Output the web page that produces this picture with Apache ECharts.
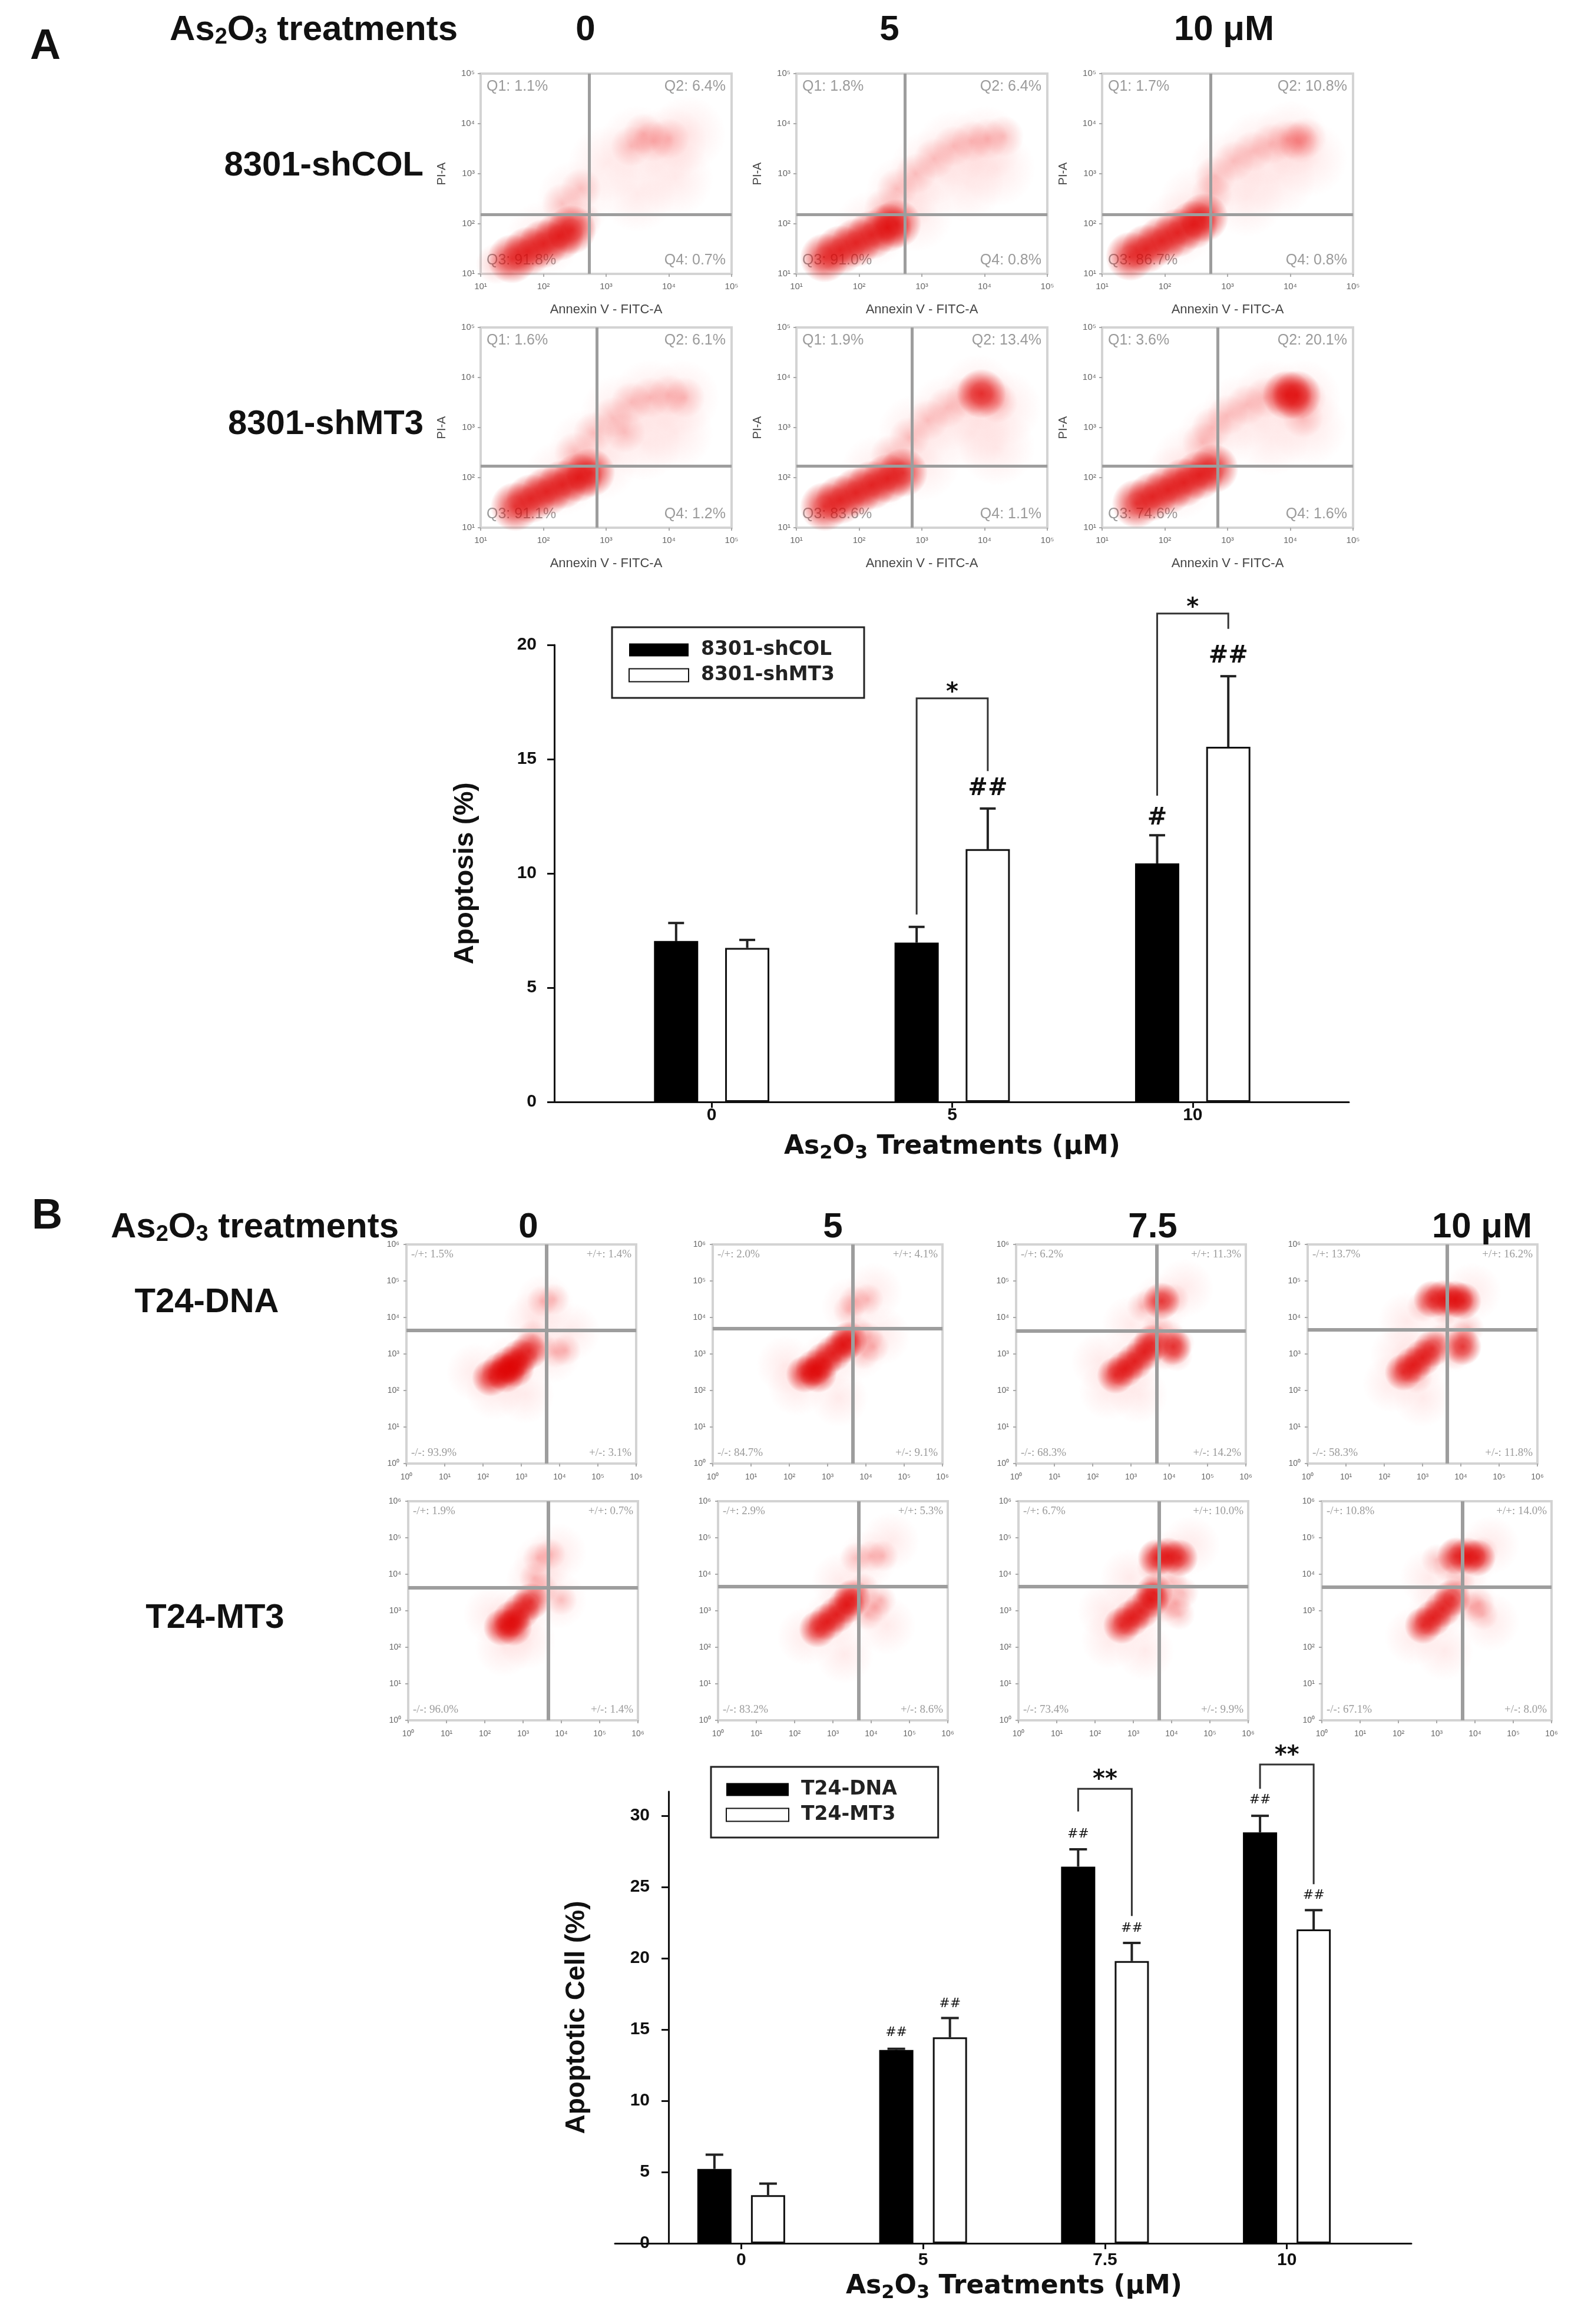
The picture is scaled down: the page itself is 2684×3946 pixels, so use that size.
<!DOCTYPE html>
<html>
<head>
<meta charset="utf-8">
<title>As2O3 apoptosis</title>
<script src="https://cdn.jsdelivr.net/npm/echarts@6.0.0/dist/echarts.min.js"></script>
<style>
  html, body { margin: 0; background: #fff; }
  #chart { width: 2684px; height: 3946px; }
</style>
</head>
<body>
<div id="chart"></div>
<script>
// ---------- panel A bars (8301 cells) ----------
const doseA = ['0', '5', '10'];
const shCOL = [7.04, 6.97, 10.44];
const shCOLErr = [0.79, 0.69, 1.23];
const shMT3 = [6.74, 11.06, 15.54];
const shMT3Err = [0.35, 1.78, 3.09];
// [dose index, left leg bottom, top, right leg bottom, star y]
const bracketsA = [[1, 8.2, 17.66, 14.48, 17.9], [2, 13.4, 21.37, 20.7, 21.6]];
// [dose index, -1 = black bar / 1 = white bar, y, text]
const marksA = [[1, 1, 13.7, '##'], [2, -1, 12.4, '#'], [2, 1, 19.5, '##']];

// ---------- panel B bars (T24 cells) ----------
const doseB = ['0', '5', '7.5', '10'];
const t24DNA = [5.22, 13.57, 26.43, 28.84];
const t24DNAErr = [1.0, 0.08, 1.22, 1.16];
const t24MT3 = [3.38, 14.46, 19.81, 22.03];
const t24MT3Err = [0.81, 1.35, 1.27, 1.35];
const bracketsB = [[2, 30.3, 31.9, 22.97, 32.5], [3, 31.9, 33.6, 25.2, 34.2]];
const marksB = [[1, -1, 14.8, '##'], [1, 1, 16.8, '##'], [2, -1, 28.7, '##'],
                [2, 1, 22.1, '##'], [3, -1, 31.1, '##'], [3, 1, 24.4, '##']];

// ---------- flow cytometry, panel A (log10 units), rows shCOL / shMT3, cols 0/5/10 ----------
const gateA = [[2.73, 2.18], [2.73, 2.18], [2.73, 2.18], [2.85, 2.23], [2.84, 2.23], [2.84, 2.23]];
const quadA = [['1.1', '6.4', '91.8', '0.7'], ['1.8', '6.4', '91.0', '0.8'], ['1.7', '10.8', '86.7', '0.8'],
               ['1.6', '6.1', '91.1', '1.2'], ['1.9', '13.4', '83.6', '1.1'], ['3.6', '20.1', '74.6', '1.6']];
const denseA = [
  [[1.5, 1.3], [1.75, 1.45], [2.0, 1.6], [2.25, 1.75], [2.45, 1.88]],
  [[1.45, 1.32], [1.7, 1.48], [1.95, 1.62], [2.2, 1.78], [2.45, 1.92], [2.6, 2.0]],
  [[1.45, 1.35], [1.7, 1.5], [1.95, 1.66], [2.2, 1.82], [2.45, 1.98], [2.62, 2.12]],
  [[1.55, 1.42], [1.8, 1.58], [2.05, 1.72], [2.3, 1.86], [2.55, 2.0], [2.75, 2.1]],
  [[1.45, 1.42], [1.7, 1.56], [1.95, 1.7], [2.2, 1.85], [2.45, 1.98], [2.7, 2.1], [3.95, 3.68]],
  [[1.55, 1.48], [1.8, 1.62], [2.05, 1.76], [2.3, 1.9], [2.55, 2.05], [2.78, 2.18], [3.95, 3.65], [4.1, 3.65]]
];
const looseA = [
  [[1.25, 1.2], [2.6, 2.05], [2.3, 2.4], [2.6, 2.7], [3.4, 3.55], [3.75, 3.65], [4.0, 3.7], [3.6, 3.8]],
  [[2.4, 2.3], [2.6, 2.7], [2.9, 3.0], [3.2, 3.3], [3.5, 3.55], [3.8, 3.65], [4.05, 3.7], [4.3, 3.75]],
  [[2.75, 2.6], [2.8, 2.95], [3.1, 3.25], [3.4, 3.45], [3.7, 3.6], [3.95, 3.68], [4.1, 3.68], [4.15, 3.62], [4.25, 3.72]],
  [[2.5, 2.5], [2.8, 2.9], [3.1, 3.2], [3.4, 3.5], [3.7, 3.6], [4.0, 3.65], [4.25, 3.6], [3.3, 2.9]],
  [[2.5, 2.45], [2.8, 2.8], [3.1, 3.15], [3.4, 3.4], [3.7, 3.6], [3.85, 3.7], [4.1, 3.65], [4.2, 3.5]],
  [[2.6, 2.7], [2.75, 3.0], [3.0, 3.25], [3.3, 3.45], [3.6, 3.6], [3.85, 3.7], [4.25, 3.6], [4.2, 3.2]]
];
const sparseA = [
  [[2.0, 1.7], [2.5, 2.5], [3.0, 3.2], [3.5, 3.6], [4.0, 3.6], [4.3, 3.8], [3.5, 2.6], [4.1, 2.9]],
  [[2.2, 1.9], [2.7, 2.6], [3.1, 3.1], [3.5, 3.5], [4.0, 3.6], [3.7, 2.8], [4.2, 3.1], [2.9, 2.2]],
  [[2.5, 2.4], [3.0, 3.1], [3.5, 3.5], [4.0, 3.7], [4.3, 3.3], [3.8, 2.9], [2.2, 1.9], [3.3, 2.5]],
  [[2.3, 2.0], [2.7, 2.6], [3.2, 3.3], [3.7, 3.6], [4.2, 3.6], [3.6, 2.7], [4.1, 2.9], [2.9, 2.3]],
  [[2.3, 2.1], [2.9, 2.9], [3.4, 3.3], [3.9, 3.7], [4.3, 3.4], [3.8, 2.9], [4.2, 2.6], [3.0, 2.3]],
  [[2.4, 2.3], [2.8, 2.8], [3.2, 3.3], [3.7, 3.6], [4.2, 3.6], [4.3, 3.0], [3.7, 2.8], [2.2, 1.9]]
];

// ---------- flow cytometry, panel B (log10 units), rows T24-DNA / T24-MT3, cols 0/5/7.5/10 ----------
const gateB = [[3.66, 3.65], [3.65, 3.69], [3.67, 3.64], [3.64, 3.66],
               [3.66, 3.63], [3.67, 3.66], [3.67, 3.67], [3.67, 3.65]];
const quadB = [['1.5', '1.4', '93.9', '3.1'], ['2.0', '4.1', '84.7', '9.1'], ['6.2', '11.3', '68.3', '14.2'], ['13.7', '16.2', '58.3', '11.8'],
               ['1.9', '0.7', '96.0', '1.4'], ['2.9', '5.3', '83.2', '8.6'], ['6.7', '10.0', '73.4', '9.9'], ['10.8', '14.0', '67.1', '8.0']];
const denseB = [
  [[2.2, 2.35], [2.45, 2.55], [2.7, 2.72], [2.95, 2.9], [3.2, 3.08], [2.6, 2.45], [2.85, 2.6]],
  [[2.4, 2.45], [2.65, 2.62], [2.9, 2.82], [3.15, 3.02], [3.4, 3.25], [3.55, 3.38], [2.75, 2.45]],
  [[2.6, 2.42], [2.85, 2.6], [3.1, 2.8], [3.35, 3.05], [3.55, 3.3], [4.1, 3.2], [3.8, 4.45]],
  [[2.5, 2.5], [2.75, 2.7], [3.0, 2.9], [3.25, 3.15], [3.25, 4.5], [3.55, 4.52], [3.85, 4.5], [4.05, 4.45], [4.05, 3.2]],
  [[2.45, 2.55], [2.7, 2.78], [2.95, 3.0], [3.2, 3.25], [2.75, 2.55]],
  [[2.6, 2.5], [2.85, 2.7], [3.1, 2.9], [3.35, 3.15], [3.5, 3.35]],
  [[2.7, 2.6], [2.95, 2.8], [3.2, 3.0], [3.45, 3.3], [3.55, 3.5], [3.6, 4.45], [3.9, 4.5], [4.2, 4.45]],
  [[2.65, 2.6], [2.9, 2.8], [3.15, 3.05], [3.4, 3.35], [3.5, 4.5], [3.8, 4.5], [4.05, 4.45]]
];
const looseB = [
  [[3.9, 3.05], [4.15, 3.1], [3.55, 4.45], [3.85, 4.5], [3.3, 3.5], [3.5, 3.2]],
  [[4.2, 3.2], [3.95, 3.0], [4.05, 3.45], [3.7, 4.45], [4.05, 4.5], [3.55, 4.2], [3.8, 3.6]],
  [[4.2, 2.95], [3.9, 3.0], [4.0, 3.5], [3.55, 4.45], [4.1, 4.5], [3.3, 4.3], [3.7, 3.7], [4.25, 3.3]],
  [[3.85, 3.0], [4.0, 3.45], [3.5, 3.4], [3.6, 4.2], [2.85, 2.35], [3.0, 4.3], [4.2, 3.7]],
  [[3.4, 4.45], [3.7, 4.55], [4.0, 3.3], [3.5, 3.6], [3.3, 3.9]],
  [[4.1, 3.1], [4.25, 3.3], [3.9, 2.9], [3.6, 4.45], [4.0, 4.5], [4.3, 4.5], [3.8, 3.6]],
  [[4.1, 3.2], [4.2, 2.9], [3.85, 3.1], [3.5, 4.2], [4.0, 3.8], [4.3, 3.5]],
  [[4.1, 3.2], [4.2, 2.9], [3.9, 3.1], [3.3, 4.2], [4.2, 4.6], [3.6, 3.8], [3.0, 4.4]]
];
const sparseB = [
  [[2.7, 2.7], [2.3, 2.0], [3.8, 3.0], [3.6, 4.4], [1.8, 2.5], [3.1, 1.9], [3.3, 3.9], [4.3, 3.6]],
  [[3.0, 2.8], [3.8, 3.1], [3.6, 4.3], [4.2, 4.7], [2.2, 2.1], [3.3, 1.8], [1.9, 2.7], [4.4, 3.5]],
  [[3.0, 2.7], [3.8, 3.3], [3.8, 4.4], [2.4, 2.0], [3.2, 1.9], [4.4, 4.8], [3.0, 3.8], [2.2, 2.8]],
  [[2.9, 2.8], [3.6, 4.3], [3.8, 3.3], [2.2, 2.2], [3.0, 1.8], [2.6, 3.9], [4.3, 4.7], [2.4, 3.0]],
  [[2.8, 2.8], [3.5, 4.3], [3.9, 3.3], [2.5, 2.0], [3.1, 2.2], [2.2, 2.9], [3.9, 4.6], [3.3, 3.8]],
  [[3.0, 2.8], [3.8, 3.2], [3.9, 4.4], [2.3, 2.3], [3.3, 1.8], [4.5, 4.9], [3.2, 3.8], [4.4, 2.6]],
  [[3.1, 2.9], [3.9, 3.3], [3.9, 4.4], [2.4, 2.2], [3.3, 1.9], [4.5, 4.8], [2.9, 3.9], [2.3, 3.0]],
  [[3.0, 3.0], [3.8, 3.3], [3.8, 4.4], [2.4, 2.3], [3.2, 1.9], [4.4, 4.8], [2.8, 3.9], [4.4, 2.7]]
];

const sup = ['⁰', '¹', '²', '³', '⁴', '⁵', '⁶'];
const SANS = '"Liberation Sans", Arial, sans-serif';
const WIDE = '"DejaVu Sans", Verdana, sans-serif';

const grids = [], xAxes = [], yAxes = [], series = [], graphics = [], legends = [];

function addGrid(g) { grids.push(g); return grids.length - 1; }

function text(str, x, y, size, align, extra) {
  graphics.push({
    type: 'text', x: x, y: y, z: 0, silent: true,
    style: Object.assign({
      text: str, fontSize: size, fontWeight: 'bold', fontFamily: SANS, fill: '#111',
      align: align || 'center', verticalAlign: 'middle'
    }, extra || {})
  });
}

// soft round spot, strong in the middle and fading out smoothly
function spot(rgb, a0, a1) {
  return {
    type: 'radial', x: 0.5, y: 0.5, r: 0.5,
    colorStops: [
      { offset: 0, color: 'rgba(' + rgb + ',' + a0 + ')' },
      { offset: 0.4, color: 'rgba(' + rgb + ',' + a1 + ')' },
      { offset: 1, color: 'rgba(' + rgb + ',0)' }
    ]
  };
}

// one dot plot with quadrant gate
function flowPanel(rect, span, gate, dense, loose, sparse, quad, names, st) {
  const gi = addGrid({ left: rect[0], top: rect[1], width: rect[2], height: rect[3], show: true, borderColor: '#d3d3d3', borderWidth: 4 });
  const lbl = { fontSize: st.tick, color: '#666', fontFamily: SANS, formatter: v => '10' + sup[v] };
  const xi = xAxes.push({
    gridIndex: gi, type: 'value', min: span[0], max: span[1], interval: 1,
    axisLine: { show: false }, axisTick: { show: true, length: 5, lineStyle: { color: '#aaa', width: 2 } },
    splitLine: { show: false }, axisLabel: Object.assign({ margin: st.xMargin }, lbl),
    name: st.xName, nameLocation: 'middle', nameGap: st.xGap,
    nameTextStyle: { fontSize: 22, color: '#444', fontFamily: SANS }
  }) - 1;
  const yi = yAxes.push({
    gridIndex: gi, type: 'value', min: span[0], max: span[1], interval: 1,
    axisLine: { show: false }, axisTick: { show: true, length: 5, lineStyle: { color: '#aaa', width: 2 } },
    splitLine: { show: false }, axisLabel: Object.assign({ margin: st.yMargin }, lbl),
    name: st.yName, nameLocation: 'middle', nameGap: st.yGap, nameRotate: 90,
    nameTextStyle: { fontSize: 20, color: '#444', fontFamily: SANS }
  }) - 1;
  const base = { type: 'scatter', xAxisIndex: xi, yAxisIndex: yi, silent: true, symbol: 'circle' };
  series.push(Object.assign({}, base, {
    data: sparse, symbolSize: st.sparse, itemStyle: { color: spot('255,60,60', 0.13, 0.08) }
  }));
  series.push(Object.assign({}, base, {
    data: loose, symbolSize: st.loose, itemStyle: { color: spot('235,20,20', 0.28, 0.16) }
  }));
  series.push(Object.assign({}, base, {
    data: dense, symbolSize: st.dense, itemStyle: { color: spot('222,0,0', 0.9, 0.7) },
    markLine: {
      silent: true, symbol: 'none', label: { show: false }, animation: false,
      lineStyle: { color: '#9d9d9d', width: st.gateW, type: 'solid' },
      data: [{ xAxis: gate[0] }, { yAxis: gate[1] }]
    }
  }));
  const [x, y, w, h] = rect, p = st.pad;
  const spots = [[x + p, y + p + st.q / 2, 'left'], [x + w - p, y + p + st.q / 2, 'right'],
                 [x + p, y + h - p - st.q / 2, 'left'], [x + w - p, y + h - p - st.q / 2, 'right']];
  spots.forEach((s, i) => text(names[i] + quad[i] + '%', s[0], s[1], st.q, s[2],
    { fontWeight: 'normal', fill: '#9a9a9a', fontFamily: st.qFont }));
}

// bar chart with error bars, significance brackets and marks
function barChart(c) {
  const gFrame = addGrid({ left: c.frameLeft, top: c.top, width: c.frameWidth, height: c.height });
  const gBars = addGrid({ left: c.barsLeft, top: c.top, width: c.barsWidth, height: c.height });
  const axisLine = { color: '#111', width: 3 };
  xAxes.push({
    gridIndex: gFrame, type: 'value', min: 0, max: 1,
    axisLine: { show: true, onZero: false, lineStyle: axisLine },
    axisTick: { show: false }, axisLabel: { show: false }, splitLine: { show: false }
  });
  yAxes.push({ gridIndex: gFrame, type: 'value', min: 0, max: c.max, show: false });
  const bx = xAxes.push({
    gridIndex: gBars, type: 'category', data: c.cats,
    axisLine: { show: false },
    axisTick: { show: true, alignWithLabel: true, length: 10, lineStyle: axisLine },
    axisLabel: { fontSize: 30, fontWeight: 'bold', fontFamily: SANS, color: '#111', margin: c.xMargin },
    name: 'As{s|2}O{s|3} Treatments (μM)', nameLocation: 'middle', nameGap: c.xGap,
    nameTextStyle: {
      fontSize: 44, fontWeight: 'bold', fontFamily: WIDE, color: '#111', lineHeight: 54,
      rich: { s: { fontSize: 32, fontWeight: 'bold', fontFamily: WIDE, color: '#111', lineHeight: 26, verticalAlign: 'bottom' } }
    }
  }) - 1;
  const by = yAxes.push({
    gridIndex: gBars, type: 'value', min: 0, max: c.max, interval: 5, offset: c.yOffset,
    axisLine: { show: true, lineStyle: axisLine },
    axisTick: { show: true, length: 12, lineStyle: axisLine },
    axisLabel: { fontSize: 30, fontWeight: 'bold', fontFamily: SANS, color: '#111', margin: c.yMargin, showMaxLabel: c.maxLabel },
    splitLine: { show: false },
    name: c.yName, nameLocation: 'middle', nameGap: c.yGap, nameRotate: 90,
    nameTextStyle: { fontSize: 46, fontWeight: 'bold', fontFamily: SANS, color: '#111' }
  }) - 1;
  const gapPct = Math.round(c.gap * 100) + '%';
  series.push({
    type: 'bar', name: c.names[0], xAxisIndex: bx, yAxisIndex: by, data: c.a, barWidth: c.barW, barGap: gapPct,
    itemStyle: { color: '#000' }, silent: true
  });
  series.push({
    type: 'bar', name: c.names[1], xAxisIndex: bx, yAxisIndex: by, data: c.b, barWidth: c.barW, barGap: gapPct,
    itemStyle: { color: '#fff', borderColor: '#111', borderWidth: 3 }, silent: true
  });
  const off = c.barW * (1 + c.gap) / 2;
  const err = (means, errs, side) => ({
    type: 'custom', xAxisIndex: bx, yAxisIndex: by, silent: true, clip: false, z: 3,
    data: means.map((m, i) => [i, m, m + errs[i]]),
    renderItem: (params, api) => {
      const p0 = api.coord([api.value(0), api.value(1)]);
      const p1 = api.coord([api.value(0), api.value(2)]);
      const x = p0[0] + side * off;
      const ls = { stroke: '#222', lineWidth: 4 };
      return {
        type: 'group', children: [
          { type: 'line', shape: { x1: x, y1: p0[1], x2: x, y2: p1[1] }, style: ls },
          { type: 'line', shape: { x1: x - c.cap / 2, y1: p1[1], x2: x + c.cap / 2, y2: p1[1] }, style: ls }
        ]
      };
    }
  });
  series.push(err(c.a, c.aErr, -1));
  series.push(err(c.b, c.bErr, 1));
  series.push({
    type: 'custom', xAxisIndex: bx, yAxisIndex: by, silent: true, clip: false, z: 4,
    data: c.brackets,
    renderItem: (params, api) => {
      const cat = api.value(0);
      const l = api.coord([cat, api.value(1)]), t = api.coord([cat, api.value(2)]);
      const r = api.coord([cat, api.value(3)]), s = api.coord([cat, api.value(4)]);
      const xl = l[0] - off, xr = l[0] + off;
      return {
        type: 'group', children: [
          { type: 'polyline', shape: { points: [[xl, l[1]], [xl, t[1]], [xr, t[1]], [xr, r[1]]] },
            style: { stroke: '#333', lineWidth: 3, fill: null } },
          { type: 'text', x: (xl + xr) / 2, y: s[1],
            style: { text: c.star, fontSize: c.starSize, fontWeight: 'bold', fontFamily: WIDE, fill: '#111', align: 'center', verticalAlign: 'middle' } }
        ]
      };
    }
  });
  series.push({
    type: 'custom', xAxisIndex: bx, yAxisIndex: by, silent: true, clip: false, z: 4,
    data: c.marks.map(m => [m[0], m[1], m[2]]),
    renderItem: (params, api) => {
      const p = api.coord([api.value(0), api.value(2)]);
      return {
        type: 'text', x: p[0] + api.value(1) * off, y: p[1],
        style: { text: c.marks[params.dataIndex][3], fontSize: c.markSize, fontWeight: c.markWeight, fontFamily: WIDE,
                 fill: '#111', align: 'center', verticalAlign: 'middle' }
      };
    }
  });
  legends.push({
    data: c.names, orient: 'vertical', left: c.legend[0], top: c.legend[1],
    padding: c.legendPad, itemGap: 10, itemWidth: c.swatch, itemHeight: 22, icon: 'rect',
    borderColor: '#222', borderWidth: 3, selectedMode: false,
    textStyle: { fontSize: 33, fontWeight: 'bold', fontFamily: WIDE, color: '#222', padding: [0, 0, 0, 16] }
  });
}

// ---------- headers ----------
const sub = { s: { fontSize: 38, fontWeight: 'bold', fontFamily: SANS, fill: '#111', lineHeight: 30, verticalAlign: 'bottom' } };
text('A', 77, 80, 72);
text('As{s|2}O{s|3} treatments', 288, 51, 60, 'left', { rich: sub, lineHeight: 64 });
text('0', 994, 51, 60);
text('5', 1510, 51, 60);
text('10 μM', 2078, 51, 60);
text('8301-shCOL', 719, 282, 58, 'right');
text('8301-shMT3', 719, 721, 58, 'right');

text('B', 80, 2066, 72);
text('As{s|2}O{s|3} treatments', 188, 2084, 60, 'left', { rich: sub, lineHeight: 64 });
text('0', 897, 2084, 60);
text('5', 1414, 2084, 60);
text('7.5', 1957, 2084, 60);
text('10 μM', 2516, 2084, 60);
text('T24-DNA', 351, 2212, 58);
text('T24-MT3', 365, 2748, 58);

// ---------- dot plots ----------
const styleA = {
  tick: 15, xMargin: 14, yMargin: 10, xName: 'Annexin V - FITC-A', xGap: 50, yName: 'PI-A', yGap: 56,
  dense: 84, loose: 70, sparse: 130, gateW: 5, pad: 10, q: 25, qFont: SANS
};
const styleB = {
  tick: 14, xMargin: 16, yMargin: 12, xName: '', xGap: 40, yName: '', yGap: 40,
  dense: 64, loose: 54, sparse: 100, gateW: 6, pad: 8, q: 19, qFont: '"Liberation Serif", serif'
};
const colsA = [816, 1352, 1871], rowsA = [125, 556];
for (let i = 0; i < 6; i++) {
  const rect = [colsA[i % 3], rowsA[Math.floor(i / 3)], 426, 340];
  flowPanel(rect, [1, 5], gateA[i], denseA[i], looseA[i], sparseA[i], quadA[i], ['Q1: ', 'Q2: ', 'Q3: ', 'Q4: '], styleA);
}
const colsB = [[690, 1210, 1725, 2220], [693, 1219, 1729, 2244]], rowsB = [2113, 2549];
for (let i = 0; i < 8; i++) {
  const r = Math.floor(i / 4);
  const rect = [colsB[r][i % 4], rowsB[r], 390, 372];
  flowPanel(rect, [0, 6], gateB[i], denseB[i], looseB[i], sparseB[i], quadB[i], ['-/+: ', '+/+: ', '-/-: ', '+/-: '], styleB);
}

// ---------- bar charts ----------
barChart({
  frameLeft: 941, frameWidth: 1349, barsLeft: 1004, barsWidth: 1225, top: 1095, height: 776, max: 20, maxLabel: true,
  yOffset: 63, yMargin: 30, xMargin: 8, xGap: 50, yGap: 128, yName: 'Apoptosis (%)',
  cats: doseA, names: ['8301-shCOL', '8301-shMT3'], a: shCOL, aErr: shCOLErr, b: shMT3, bErr: shMT3Err,
  barW: 75, gap: 0.61, cap: 27, brackets: bracketsA, marks: marksA, star: '*', starSize: 40,
  markSize: 40, markWeight: 'bold', legend: [1039, 1065], legendPad: [22, 50, 22, 28], swatch: 101
});
barChart({
  frameLeft: 1044, frameWidth: 1352, barsLeft: 1104, barsWidth: 1235, top: 3042, height: 767, max: 31.7, maxLabel: false,
  yOffset: -31, yMargin: 32, xMargin: 14, xGap: 47, yGap: 133, yName: 'Apoptotic Cell (%)',
  cats: doseB, names: ['T24-DNA', 'T24-MT3'], a: t24DNA, aErr: t24DNAErr, b: t24MT3, bErr: t24MT3Err,
  barW: 58, gap: 0.57, cap: 30, brackets: bracketsB, marks: marksB, star: '**', starSize: 40,
  markSize: 22, markWeight: 'normal', legend: [1207, 3000], legendPad: [22, 70, 22, 25], swatch: 106
});

const chart = echarts.init(document.getElementById('chart'), null, { renderer: 'canvas', width: 2684, height: 3946 });
chart.setOption({
  animation: false,
  backgroundColor: '#fff',
  grid: grids,
  xAxis: xAxes,
  yAxis: yAxes,
  legend: legends,
  graphic: { elements: graphics },
  series: series
});
</script>
</body>
</html>
